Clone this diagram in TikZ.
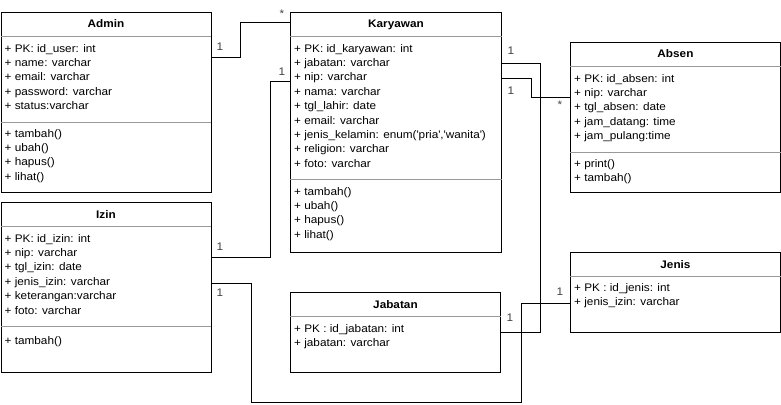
\documentclass[tikz,border=0pt]{standalone}
\usepackage{fontspec}
\setmainfont{Liberation Sans}[FakeStretch=1.07]
\usetikzlibrary{positioning,calc}

\begin{document}
\begin{tikzpicture}[x=1pt, y=-1pt,
    classbox/.style={rectangle, draw, line width=0.9pt, minimum width=210, anchor=north west, inner sep=0},
    classname/.style={font=\fontsize{11}{13}\selectfont\bfseries, anchor=base, inner sep=0},
    members/.style={font=\fontsize{11}{14.4}\selectfont, align=left, anchor=north west, inner sep=0, execute at begin node={\strut}},
    sep/.style={draw, black!40, line width=0.8pt},
    link/.style={draw, line width=0.9pt},
    mult/.style={font=\fontsize{11}{13}\selectfont, text=black!75, anchor=base, inner sep=0}]
    \useasboundingbox (0,0) rectangle (781,404);

    % Classes
    \node (admin) [classbox, minimum height=180] at (0.5,12) {};
    \node (adminname) [classname] at ($(admin.north)+(0,16)$) {Admin};
    \node (adminattr) [members] at ($(admin.north west)+(4,32)$) {+ PK: id\_user: int\\+ name: varchar\\+ email: varchar\\+ password: varchar\\+ status:varchar};
    \node (adminop) [members] at ($(admin.north west)+(4,117)$) {+ tambah()\\+ ubah()\\+ hapus()\\+ lihat()};
    \draw [sep] ($(admin.north west)+(0,24)$) -- ($(admin.north east)+(0,24)$);
    \draw [sep] ($(admin.north west)+(0,110)$) -- ($(admin.north east)+(0,110)$);

    \node (karyawan) [classbox, minimum width=211, minimum height=240] at (290,12) {};
    \node (karyawanname) [classname] at ($(karyawan.north)+(0,16)$) {Karyawan};
    \node (karyawanattr) [members] at ($(karyawan.north west)+(4,32)$) {+ PK: id\_karyawan: int\\+ jabatan: varchar\\+ nip: varchar\\+ nama: varchar\\+ tgl\_lahir: date\\+ email: varchar\\+ jenis\_kelamin: enum(\textquotesingle pria\textquotesingle,\textquotesingle wanita\textquotesingle)\\+ religion: varchar\\+ foto: varchar};
    \node (karyawanop) [members] at ($(karyawan.north west)+(4,175)$) {+ tambah()\\+ ubah()\\+ hapus()\\+ lihat()};
    \draw [sep] ($(karyawan.north west)+(0,24)$) -- ($(karyawan.north east)+(0,24)$);
    \draw [sep] ($(karyawan.north west)+(0,167)$) -- ($(karyawan.north east)+(0,167)$);

    \node (absen) [classbox, minimum height=150] at (570,42) {};
    \node (absenname) [classname] at ($(absen.north)+(0,16)$) {Absen};
    \node (absenattr) [members] at ($(absen.north west)+(4,32)$) {+ PK: id\_absen: int\\+ nip: varchar\\+ tgl\_absen: date\\+ jam\_datang: time\\+ jam\_pulang:time};
    \node (absenop) [members] at ($(absen.north west)+(4,117)$) {+ print()\\+ tambah()};
    \draw [sep] ($(absen.north west)+(0,24)$) -- ($(absen.north east)+(0,24)$);
    \draw [sep] ($(absen.north west)+(0,110)$) -- ($(absen.north east)+(0,110)$);

    \node (izin) [classbox, minimum height=170] at (0.5,202) {};
    \node (izinname) [classname] at ($(izin.north)+(0,16)$) {Izin};
    \node (izinattr) [members] at ($(izin.north west)+(4,32)$) {+ PK: id\_izin: int\\+ nip: varchar\\+ tgl\_izin: date\\+ jenis\_izin: varchar\\+ keterangan:varchar\\+ foto: varchar};
    \node (izinop) [members] at ($(izin.north west)+(4,132)$) {+ tambah()};
    \draw [sep] ($(izin.north west)+(0,24.5)$) -- ($(izin.north east)+(0,24.5)$);
    \draw [sep] ($(izin.north west)+(0,124)$) -- ($(izin.north east)+(0,124)$);

    \node (jabatan) [classbox, minimum height=80] at (290,292) {};
    \node (jabatanname) [classname] at ($(jabatan.north)+(0,16)$) {Jabatan};
    \node (jabatanattr) [members] at ($(jabatan.north west)+(4,32)$) {+ PK : id\_jabatan: int\\+ jabatan: varchar};
    \draw [sep] ($(jabatan.north west)+(0,24)$) -- ($(jabatan.north east)+(0,24)$);

    \node (jenis) [classbox, minimum height=80] at (570,252) {};
    \node (jenisname) [classname] at ($(jenis.north)+(0,16)$) {Jenis};
    \node (jenisattr) [members] at ($(jenis.north west)+(4,31)$) {+ PK : id\_jenis: int\\+ jenis\_izin: varchar};
    \draw [sep] ($(jenis.north west)+(0,24)$) -- ($(jenis.north east)+(0,24)$);

    % Relations
    \draw [link] (admin.east |- 0,57) -| (240,22) -- (karyawan.west |- 0,22);
    \draw [link] (izin.east |- 0,257) -| (270,81) -- (karyawan.west |- 0,81);
    \draw [link] (karyawan.east |- 0,63) -| (540,332) -- (jabatan.east |- 0,332);
    \draw [link] (karyawan.east |- 0,78) -| (531,97) -- (absen.west |- 0,97);
    \draw [link] (izin.east |- 0,283) -| (251,402) -| (521,303) -- (jenis.west |- 0,303);

    % Multiplicities
    \node (m1) [mult] at (220,51) {1};
    \node (m2) [mult] at (282,18) {*};
    \node (m3) [mult] at (282,75) {1};
    \node (m4) [mult] at (220,250) {1};
    \node (m5) [mult] at (220,296) {1};
    \node (m6) [mult] at (511,55) {1};
    \node (m7) [mult] at (511,94) {1};
    \node (m8) [mult] at (560,108) {*};
    \node (m9) [mult] at (510,321) {1};
    \node (m10) [mult] at (560,295) {1};
\end{tikzpicture}
\end{document}
